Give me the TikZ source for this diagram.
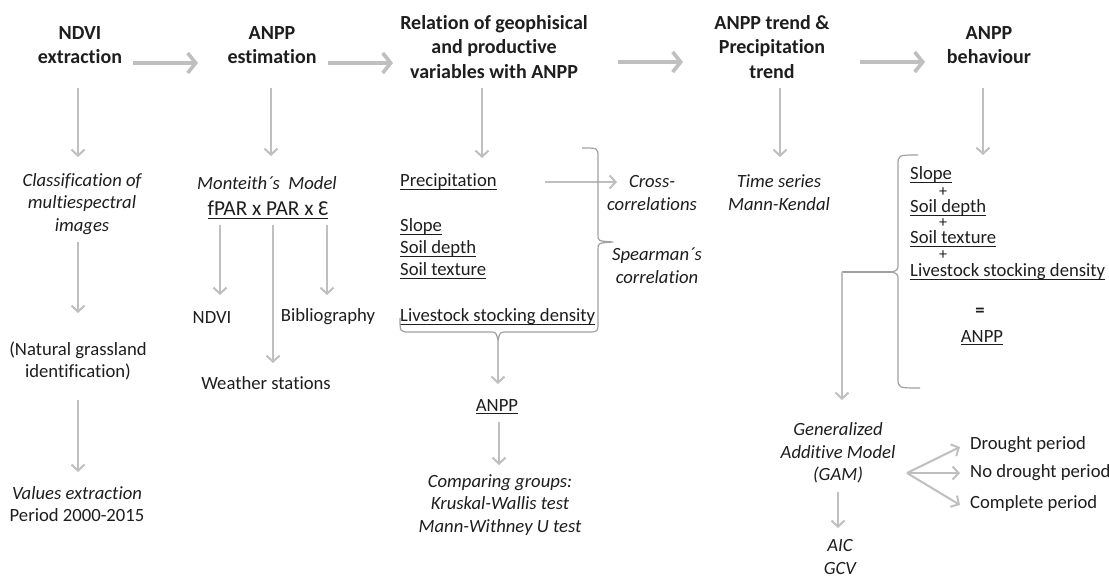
\documentclass[tikz,border=0pt]{standalone}
\usepackage{fontspec}
\setmainfont{Carlito}[Ligatures={NoCommon}]
\usetikzlibrary{arrows.meta}
\definecolor{ag}{RGB}{191,191,191}
\definecolor{bg}{RGB}{160,160,160}
\definecolor{tx}{RGB}{30,30,30}
\newlength\ulw
\newcommand\myul[1]{\settowidth\ulw{#1}\rlap{\rule[-3pt]{\ulw}{1pt}}#1}
\begin{document}
\begin{tikzpicture}[x=1pt,y=-1pt,
  txt/.style={font=\fontsize{18.67}{22.8}\selectfont, text=tx, align=center, inner sep=0pt},
  itx/.style={txt, font=\fontsize{18.67}{22.8}\selectfont\itshape},
  hd/.style={txt, font=\fontsize{20}{24.8}\selectfont\bfseries},
  lft/.style={txt, anchor=west},
  pls/.style={txt, font=\fontsize{16}{18}\selectfont},
  varr/.style={draw=ag, line width=2pt, -{Straight Barb[length=6pt,width=13pt]}},
  harr/.style={draw=ag, line width=3.6pt, -{Straight Barb[length=8pt,width=20pt]}},
  brc/.style={draw=bg, line width=1.2pt, line join=round}]
\useasboundingbox (0,0) rectangle (1109,577);
\fill[white] (0,0) rectangle (1109,577);

% headers
\node[hd] (h1) at (80,45) {NDVI\\extraction};
\node[hd] (h2) at (272,45) {ANPP\\estimation};
\node[hd] (h3) at (494,47) {Relation of geophisical\\and productive\\variables with ANPP};
\node[hd] (h4) at (772,47) {ANPP trend \&\\Precipitation\\trend};
\node[hd] (h5) at (989,45) {ANPP\\behaviour};

\coordinate (a1s) at (133,63); \coordinate (a1e) at (198,63);
\coordinate (a2s) at (328,63); \coordinate (a2e) at (393,63);
\coordinate (a3s) at (618,62); \coordinate (a3e) at (683,62);
\coordinate (a4s) at (860,62); \coordinate (a4e) at (925,62);
\draw[harr] (a1s) -- (a1e);
\draw[harr] (a2s) -- (a2e);
\draw[harr] (a3s) -- (a3e);
\draw[harr] (a4s) -- (a4e);

% column 1
\node[itx] (cls) at (82,204) {Classification of\\multiespectral\\images};
\node[txt] (nat) at (78,361) {(Natural grassland\\identification)};
\node[txt] (val) at (77,504) {\textit{Values extraction}\\Period 2000-2015};
\coordinate (c1a) at (78,88); \coordinate (c1b) at (78,157);
\coordinate (c1c) at (78,242); \coordinate (c1d) at (78,313);
\coordinate (c1e) at (78,400); \coordinate (c1f) at (78,472);
\draw[varr] (c1a) -- (c1b);
\draw[varr] (c1c) -- (c1d);
\draw[varr] (c1e) -- (c1f);

% column 2
\node[itx] (mon) at (267,183) {Monteith´s\ \ Model};
\node[txt, font=\fontsize{21.3}{26}\selectfont] (fpar) at (268,210) {\myul{fPAR x PAR x Ɛ}};
\node[txt] (ndvi) at (212,318) {NDVI};
\node[txt] (bib) at (328,317) {Bibliography};
\node[txt] (ws) at (266,383) {Weather stations};
\coordinate (c2a) at (271,88); \coordinate (c2b) at (271,156);
\coordinate (f1) at (220,225); \coordinate (f1e) at (220,295);
\coordinate (f2) at (273,225); \coordinate (f2e) at (273,363);
\coordinate (f3) at (327,225); \coordinate (f3e) at (327,295);
\draw[varr] (c2a) -- (c2b);
\draw[varr] (f1) -- (f1e);
\draw[varr] (f2) -- (f2e);
\draw[varr] (f3) -- (f3e);

% column 3
\node[lft] (pre) at (400,182) {\myul{Precipitation}};
\node[lft] (slo) at (400,227) {\myul{Slope}};
\node[lft] (sd) at (400,249) {\myul{Soil depth}};
\node[lft] (st) at (400,271) {\myul{Soil texture}};
\node[lft] (lsd) at (400,317) {\myul{Livestock stocking density}};
\node[itx] (cross) at (652,193) {Cross-\\correlations};
\node[itx] (spear) at (657,266) {Spearman´s\\correlation};
\node[txt] (anpp3) at (497,407) {\myul{ANPP}};
\node[itx] (cmp) at (500,505) {Comparing groups:\\Kruskal-Wallis test\\Mann-Withney U test};
\coordinate (c3a) at (482,88); \coordinate (c3b) at (482,158);
\coordinate (pa) at (545,182); \coordinate (pb) at (617,182);
\coordinate (bt) at (498,340); \coordinate (bte) at (498,384);
\coordinate (an1) at (499,422); \coordinate (an2) at (499,465);
\draw[varr] (c3a) -- (c3b);
\draw[varr] (pa) -- (pb);
\draw[varr] (bt) -- (bte);
\draw[varr] (an1) -- (an2);
% braces column 3
\draw[brc] (400,318) .. controls (400,332) .. (410,332) -- (489,332)
  .. controls (496,332) .. (498,340) .. controls (500,332) .. (507,332) -- (588,332)
  .. controls (598,332) .. (598,322) -- (598,249) .. controls (598,243) .. (613,242)
  .. controls (598,241) .. (598,235) -- (598,157) .. controls (598,148) .. (582,148);

% column 4
\node[itx] (ts) at (779,193) {Time series\\Mann-Kendal};
\coordinate (c4a) at (780,88); \coordinate (c4b) at (780,157);
\draw[varr] (c4a) -- (c4b);

% column 5
\coordinate (c5a) at (983,88); \coordinate (c5b) at (983,155);
\draw[varr] (c5a) -- (c5b);
\node[lft] (s5) at (910,175) {\myul{Slope}};
\node[pls] (p1) at (943,192) {+};
\node[lft] (d5) at (910,208) {\myul{Soil depth}};
\node[pls] (p2) at (943,223) {+};
\node[lft] (t5) at (910,239) {\myul{Soil texture}};
\node[pls] (p3) at (943,255) {+};
\node[lft] (l5) at (910,272) {\myul{Livestock stocking density}};
\node[txt, font=\fontsize{18.67}{22.8}\selectfont\bfseries] (eq) at (980,312) {=};
\node[txt] (anpp5) at (982,338) {\myul{ANPP}};
\draw[brc] (918,155) .. controls (898,155) .. (898,165) -- (898,262)
  .. controls (898,270) .. (892,272) .. controls (898,274) .. (898,282)
  -- (898,378) .. controls (898,388) .. (920,388);
\coordinate (btip) at (892,272); \coordinate (bcor) at (842,272); \coordinate (gtop) at (842,400);
\draw[brc] (btip) -- (bcor);
\draw[varr] (bcor) -- (gtop);
\node[itx] (gam) at (838,453) {Generalized\\Additive Model\\(GAM)};
\node[itx] (aic) at (840,557) {AIC\\GCV};
\coordinate (g1) at (838,492); \coordinate (g2) at (838,528);
\draw[varr] (g1) -- (g2);
\node[lft] (dp) at (970,445) {Drought period};
\node[lft] (ndp) at (970,473) {No drought period};
\node[lft] (cp) at (970,504) {Complete period};
\coordinate (fan) at (907,473);
\coordinate (fd) at (960,447); \coordinate (fn) at (960,473); \coordinate (fc) at (960,505);
\draw[varr] (fan) -- (fd);
\draw[varr] (fan) -- (fn);
\draw[varr] (fan) -- (fc);
\end{tikzpicture}
\end{document}
